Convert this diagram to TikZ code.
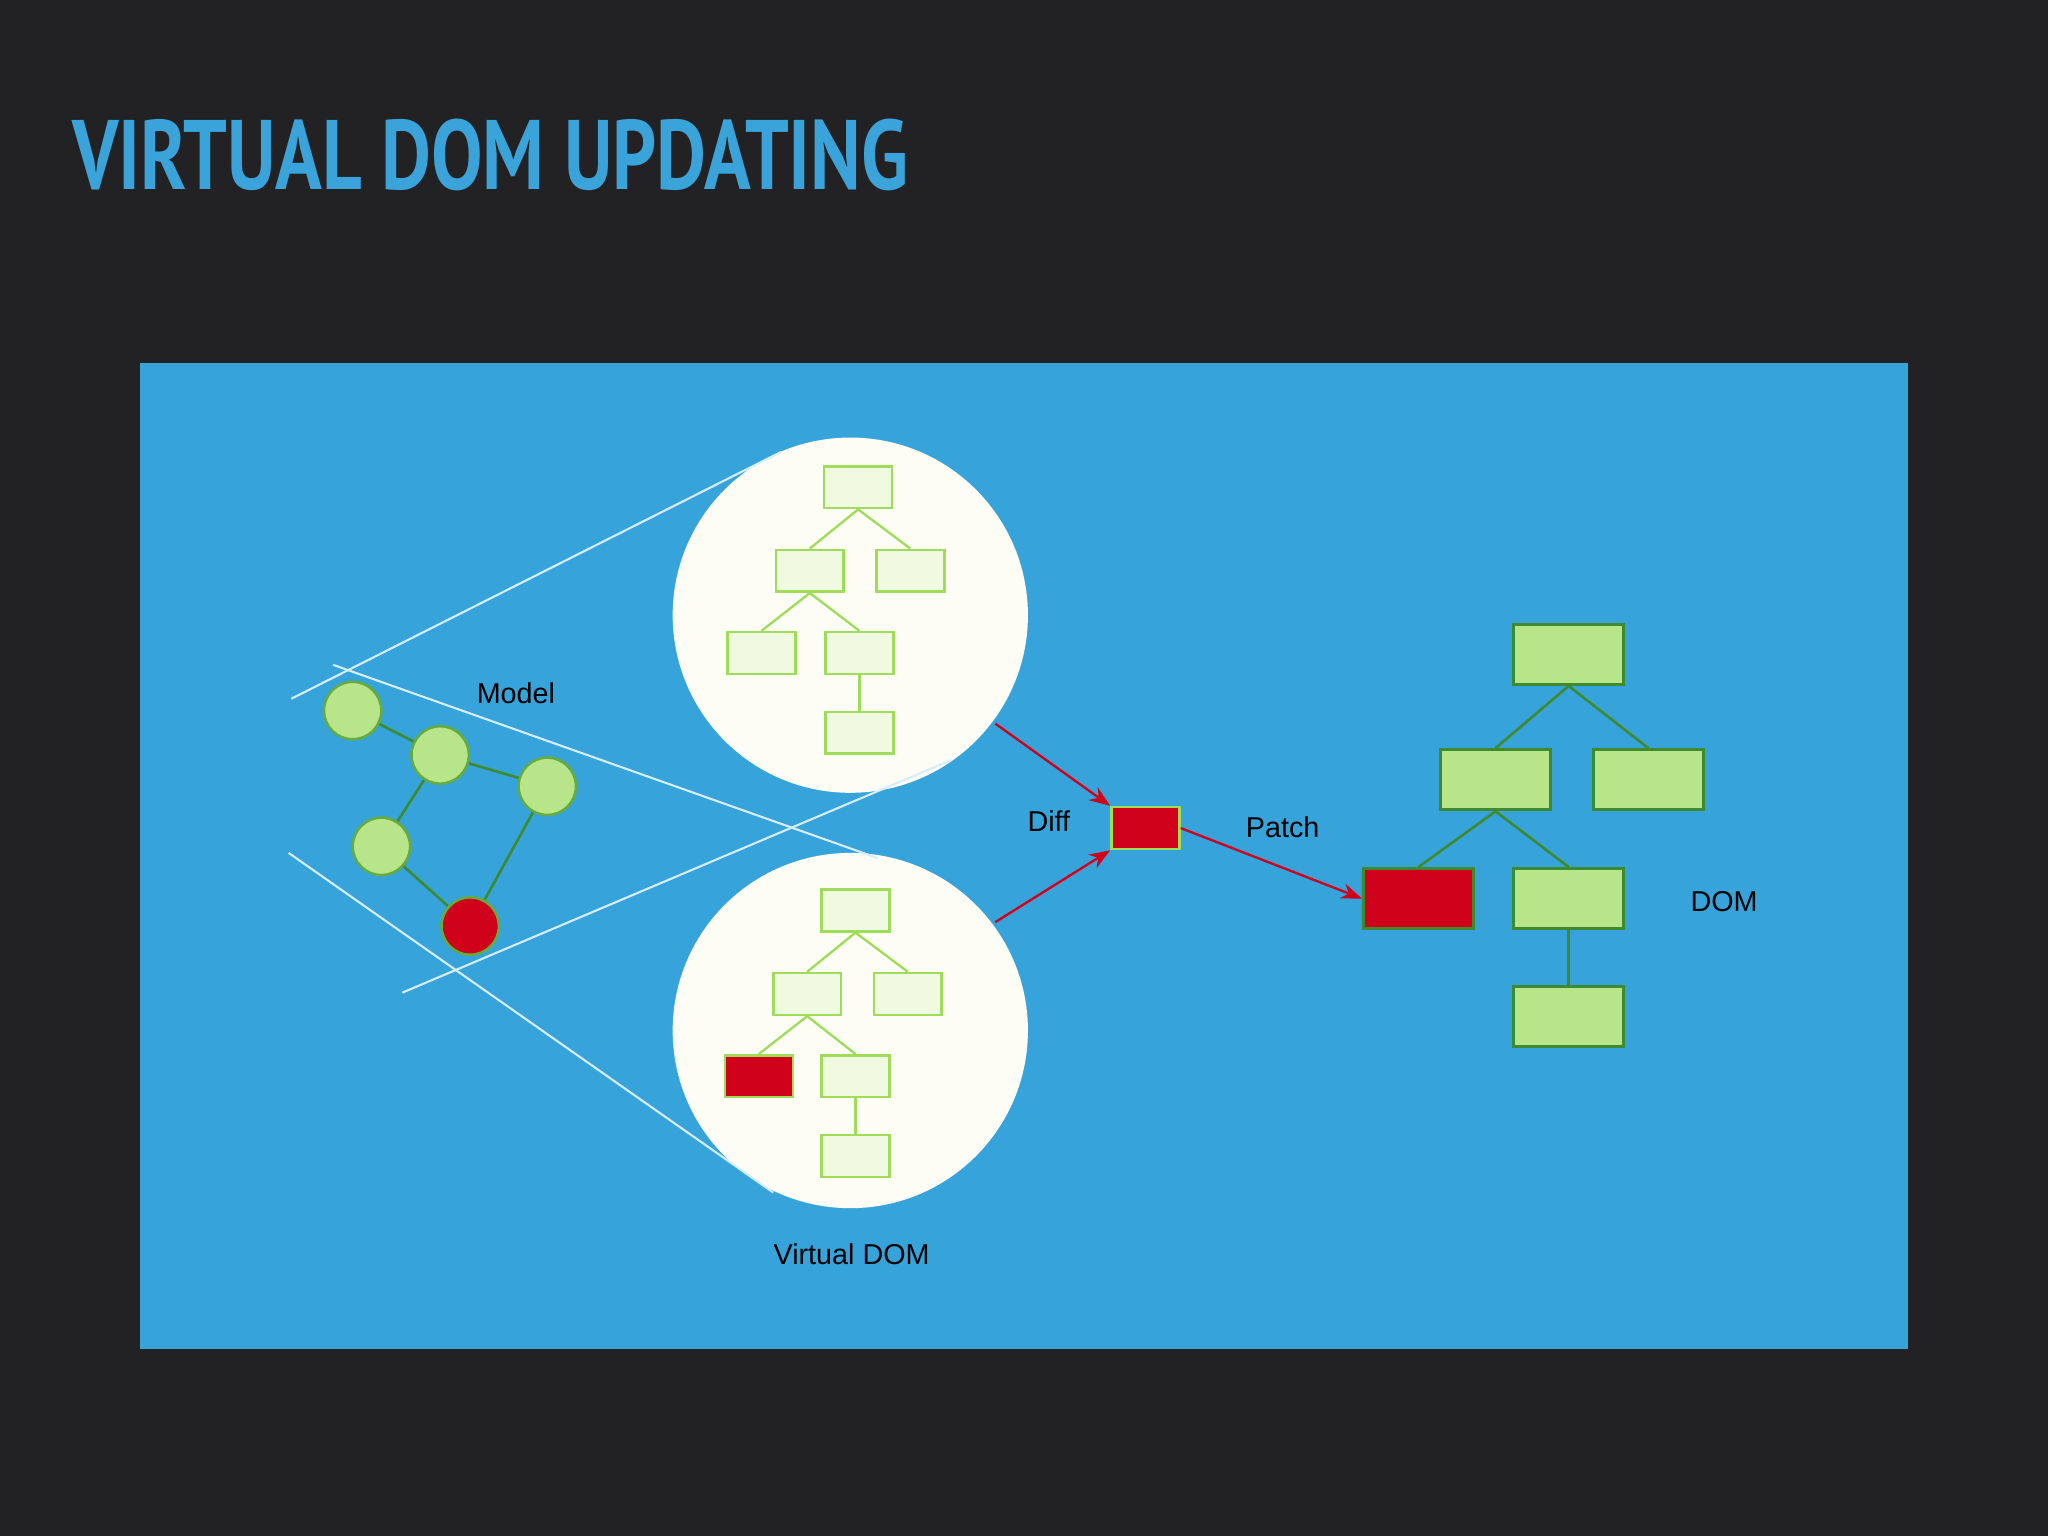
\documentclass[tikz,border=0pt]{standalone}
\usepackage{fontspec}
\setmainfont{Liberation Sans}
\newfontfamily\titlefont{PT Sans}
\usetikzlibrary{arrows.meta}
\definecolor{bg}{HTML}{222224}
\definecolor{panel}{HTML}{36A4DB}
\definecolor{ttl}{HTML}{3AA3DA}
\definecolor{lg}{HTML}{B8E58A}
\definecolor{lgb}{HTML}{9FDC5A}
\definecolor{vb}{HTML}{F0FAE0}
\definecolor{dg}{HTML}{3E8A2E}
\definecolor{rd}{HTML}{D0021B}
\definecolor{cir}{HTML}{FDFDF6}
\tikzset{
 vbox/.style={draw=lgb,fill=vb,line width=1pt,minimum width=26pt,minimum height=16pt,inner sep=0},
 vred/.style={vbox,fill=rd},
 dbox/.style={draw=dg,fill=lg,line width=1.2pt,minimum width=42pt,minimum height=23pt,inner sep=0},
 dred/.style={dbox,fill=rd},
 mnode/.style={circle,draw=dg!60!lgb,fill=lg,line width=1pt,minimum size=22pt,inner sep=0},
 mred/.style={mnode,fill=rd},
 vedge/.style={draw=lgb,line width=0.9pt},
 dedge/.style={draw=dg,line width=1pt},
 gline/.style={draw=white!80!panel,line width=0.8pt},
 rarrow/.style={draw=rd,line width=0.9pt,-{Stealth[length=8pt,width=6pt]}},
 lbl/.style={font=\fontsize{11}{13}\selectfont,text=black}
}
\begin{document}
\begin{tikzpicture}[x=0.5pt,y=-0.5pt]
\fill[bg] (0,0) rectangle (1568,1176);
\fill[panel] (107,278) rectangle (1461,1033);
\node[anchor=west,text=ttl,inner sep=0] (title) at (55,119) {\titlefont\bfseries\fontsize{36}{40}\selectfont\scalebox{0.82}[1.05]{VIRTUAL DOM UPDATING}};
% circles
\node[circle,fill=cir,minimum size=136pt,inner sep=0] (c1) at (651,471) {};
\node[circle,fill=cir,minimum size=136pt,inner sep=0] (c2) at (651,789) {};
% projection lines
\coordinate (p1) at (223,535); \coordinate (q1) at (598,346);
\coordinate (p2) at (255,509); \coordinate (q2) at (672,657);
\coordinate (p3) at (221,653); \coordinate (q3) at (592,913);
\coordinate (p4) at (308,760); \coordinate (q4) at (728,582);
\draw[gline] (p1)--(q1); \draw[gline] (p2)--(q2); \draw[gline] (p3)--(q3); \draw[gline] (p4)--(q4);
% top tree
\node[vbox] (a1) at (657,373) {};
\node[vbox] (a2) at (620,437) {};
\node[vbox] (a3) at (697,437) {};
\node[vbox] (a4) at (583,500) {};
\node[vbox] (a5) at (658,500) {};
\node[vbox] (a6) at (658,561) {};
\draw[vedge] (a1.south)--(a2.north); \draw[vedge] (a1.south)--(a3.north);
\draw[vedge] (a2.south)--(a4.north); \draw[vedge] (a2.south)--(a5.north);
\draw[vedge] (a5)--(a6);
% bottom tree
\node[vbox] (b1) at (655,697) {};
\node[vbox] (b2) at (618,761) {};
\node[vbox] (b3) at (695,761) {};
\node[vred] (b4) at (581,824) {};
\node[vbox] (b5) at (655,824) {};
\node[vbox] (b6) at (655,885) {};
\draw[vedge] (b1.south)--(b2.north); \draw[vedge] (b1.south)--(b3.north);
\draw[vedge] (b2.south)--(b4.north); \draw[vedge] (b2.south)--(b5.north);
\draw[vedge] (b5)--(b6);
% model
\node[mnode] (m1) at (270,544) {};
\node[mnode] (m2) at (337,578) {};
\node[mnode] (m3) at (419,602) {};
\node[mnode] (m4) at (292,648) {};
\node[mred] (m5) at (360,709) {};
\draw[dedge] (m1)--(m2); \draw[dedge] (m2)--(m3); \draw[dedge] (m2)--(m4);
\draw[dedge] (m4)--(m5); \draw[dedge] (m3)--(m5);
\node[lbl] (model) at (395,531) {Model};
% diff
\node[vred,minimum width=26pt] (diff) at (877,634) {};
\node[lbl] (difft) at (803,629) {Diff};
\node[lbl] (patcht) at (982,633) {Patch};
\coordinate (s1) at (762,554); \coordinate (s2) at (762,706);
% DOM
\node[dbox] (d1) at (1201,501) {};
\node[dbox] (d2) at (1145,597) {};
\node[dbox] (d3) at (1262,597) {};
\node[dred] (d4) at (1086,688) {};
\node[dbox] (d5) at (1201,688) {};
\node[dbox] (d6) at (1201,778) {};
\draw[dedge] (d1.south)--(d2.north); \draw[dedge] (d1.south)--(d3.north);
\draw[dedge] (d2.south)--(d4.north); \draw[dedge] (d2.south)--(d5.north);
\draw[dedge] (d5)--(d6);
\draw[rarrow] (s1)--(diff.north west);
\draw[rarrow] (s2)--(diff.south west);
\draw[rarrow] (diff.east)--(d4.west);
\node[lbl] (domt) at (1320,690) {DOM};
\node[lbl] (vdomt) at (652,960) {Virtual DOM};
\end{tikzpicture}
\end{document}
